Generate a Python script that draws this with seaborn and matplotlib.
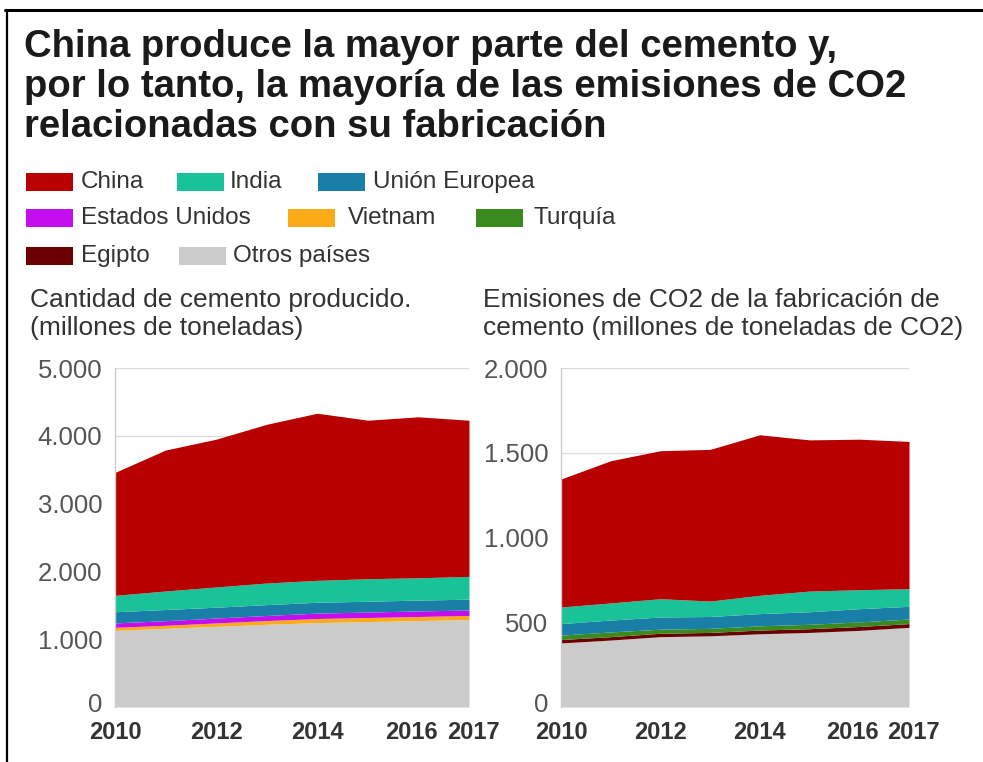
import numpy as np
import pandas as pd
import matplotlib
matplotlib.use("Agg")
import matplotlib.pyplot as plt
import matplotlib.transforms as mtransforms
import seaborn as sns
from matplotlib.patches import Rectangle
from matplotlib.lines import Line2D

# ---------------- data ----------------
years = [2010, 2011, 2012, 2013, 2014, 2015, 2016, 2017]
countries = ["China", "India", "Unión Europea", "Estados Unidos",
             "Vietnam", "Turquía", "Egipto", "Otros países"]
colors = ["#b80000", "#19c297", "#1a7fa6", "#c40ef0",
          "#fbab18", "#3a8a1e", "#6b0000", "#cbcbcb"]

# cement production (millions of tonnes)
cem_china = [1813, 2079, 2180, 2341, 2465, 2338, 2374, 2304]
cem_india = [242, 273, 298, 319, 323, 332, 329, 336]
cem_ue = [165, 165, 160, 160, 160, 160, 160, 160]
cem_eeuu = [65, 68, 72, 75, 80, 80, 82, 80]
cem_vietnam = [45, 45, 50, 55, 60, 60, 60, 60]
cem_turquia = [0, 0, 0, 0, 0, 0, 0, 0]
cem_egipto = [0, 0, 0, 0, 0, 0, 0, 0]
cem_otros = [1130, 1160, 1190, 1220, 1245, 1260, 1275, 1290]

# CO2 emissions from cement (millions of tonnes CO2)
co2_china = [755, 839, 873, 895, 947, 892, 888, 869]
co2_india = [98, 101, 108, 91, 108, 122, 112, 104]
co2_ue = [68, 70, 72, 70, 72, 74, 78, 75]
co2_eeuu = [0, 0, 0, 0, 0, 0, 0, 0]
co2_vietnam = [0, 0, 0, 0, 0, 0, 0, 0]
co2_turquia = [26, 28, 24, 24, 25, 26, 27, 27]
co2_egipto = [20, 20, 20, 20, 22, 22, 23, 22]
co2_otros = [378, 395, 415, 420, 432, 440, 452, 470]

xticks = [2010, 2012, 2014, 2016, 2017]
xtick_labels = ["2010", "2012", "2014", "2016", "2017"]
cem_yticks = [0, 1000, 2000, 3000, 4000, 5000]
cem_ytick_labels = ["0", "1.000", "2.000", "3.000", "4.000", "5.000"]
co2_yticks = [0, 500, 1000, 1500, 2000]
co2_ytick_labels = ["0", "500", "1.000", "1.500", "2.000"]

title_lines = ["China produce la mayor parte del cemento y,",
               "por lo tanto, la mayoría de las emisiones de CO2",
               "relacionadas con su fabricación"]
sub_left = ["Cantidad de cemento producido.", "(millones de toneladas)"]
sub_right = ["Emisiones de CO2 de la fabricación de",
             "cemento (millones de toneladas de CO2)"]


def long_df(series):
    rows = []
    for c, vals in zip(countries, series):
        for y, v in zip(years, vals):
            rows.append({"year": y, "country": c, "value": v})
    return pd.DataFrame(rows)


df_cem = long_df([cem_china, cem_india, cem_ue, cem_eeuu, cem_vietnam,
                  cem_turquia, cem_egipto, cem_otros])
df_co2 = long_df([co2_china, co2_india, co2_ue, co2_eeuu, co2_vietnam,
                  co2_turquia, co2_egipto, co2_otros])

# ---------------- style ----------------
sns.set_theme(style="white")
plt.rcParams["font.family"] = ["Liberation Sans", "DejaVu Sans"]

W, H = 983, 762
fig = plt.figure(figsize=(W / 100, H / 100), dpi=100)
fig.patch.set_facecolor("white")


def fx(x):
    return x / W


def fy(y):
    return 1 - y / H


# frame lines (top and left)
fig.add_artist(Line2D([fx(5), fx(983)], [fy(10), fy(10)], color="black", lw=2.2))
fig.add_artist(Line2D([fx(7), fx(7)], [fy(10), fy(762)], color="black", lw=1.6))

# title
for i, line in enumerate(title_lines):
    fig.text(fx(24), fy(57 + 40 * i), line, fontsize=27.5, fontweight="bold",
             color="#1a1a1a", va="baseline", ha="left")

# legend (manual)
legend_layout = [
    (26, 81, 182), (177, 230, 182), (318, 373, 182),
    (26, 81, 218), (288, 348, 218), (476, 533, 218),
    (26, 81, 256), (179, 233, 256),
]
for (sx, tx, yy), name, col in zip(legend_layout, countries, colors):
    fig.add_artist(Rectangle((fx(sx), fy(yy + 8.5)), 47 / W, 17 / H,
                             transform=fig.transFigure, facecolor=col,
                             edgecolor="none"))
    fig.text(fx(tx), fy(yy), name, fontsize=17.5, color="#333333",
             va="center", ha="left")

# subtitles
for i, line in enumerate(sub_left):
    fig.text(fx(30), fy(300 + 28 * i), line, fontsize=19, color="#333333",
             va="center", ha="left")
for i, line in enumerate(sub_right):
    fig.text(fx(483), fy(300 + 28 * i), line, fontsize=19, color="#333333",
             va="center", ha="left")

# axes
ax1 = fig.add_axes([fx(115), fy(707), (469 - 115) / W, (707 - 368) / H])
ax2 = fig.add_axes([fx(561), fy(707), (909 - 561) / W, (707 - 368) / H])

xlabel_shift = {"2016": -7, "2017": 4}


def shift(lab, dx, dy):
    lab.set_transform(lab.get_transform() +
                      mtransforms.ScaledTranslation(dx / 100, dy / 100,
                                                    fig.dpi_scale_trans))


def draw(ax, df, yticks, ylabels, ymax):
    sns.histplot(data=df, x="year", weights="value", hue="country",
                 hue_order=countries, palette=colors, multiple="stack",
                 element="poly", discrete=True, ax=ax, legend=False,
                 alpha=1, linewidth=0)
    ax.set_xlim(2010, 2017)
    ax.set_ylim(0, ymax)
    ax.set_xticks(xticks)
    ax.set_xticklabels(xtick_labels, fontsize=17, fontweight="bold",
                       color="#333333")
    ax.set_yticks(yticks)
    ax.set_yticklabels(ylabels, fontsize=18.5, color="#555555")
    ax.tick_params(axis="both", length=0)
    ax.tick_params(axis="y", pad=9)
    ax.tick_params(axis="x", pad=10)
    for lab in ax.get_xticklabels():
        dx = xlabel_shift.get(lab.get_text(), 0)
        if dx:
            shift(lab, dx, 0)
    # lift the "0" label slightly so it clears the year labels
    shift(ax.get_yticklabels()[0], 0, 4)
    ax.set_xlabel("")
    ax.set_ylabel("")
    ax.grid(axis="y", color="#dddddd", lw=1)
    ax.grid(axis="x", visible=False)
    ax.set_axisbelow(True)
    for s in ["top", "right", "bottom"]:
        ax.spines[s].set_visible(False)
    ax.spines["left"].set_color("#cccccc")
    ax.spines["left"].set_linewidth(1)
    ax.set_facecolor("white")


draw(ax1, df_cem, cem_yticks, cem_ytick_labels, 5000)
draw(ax2, df_co2, co2_yticks, co2_ytick_labels, 2000)

fig.savefig("out.png", dpi=100)
